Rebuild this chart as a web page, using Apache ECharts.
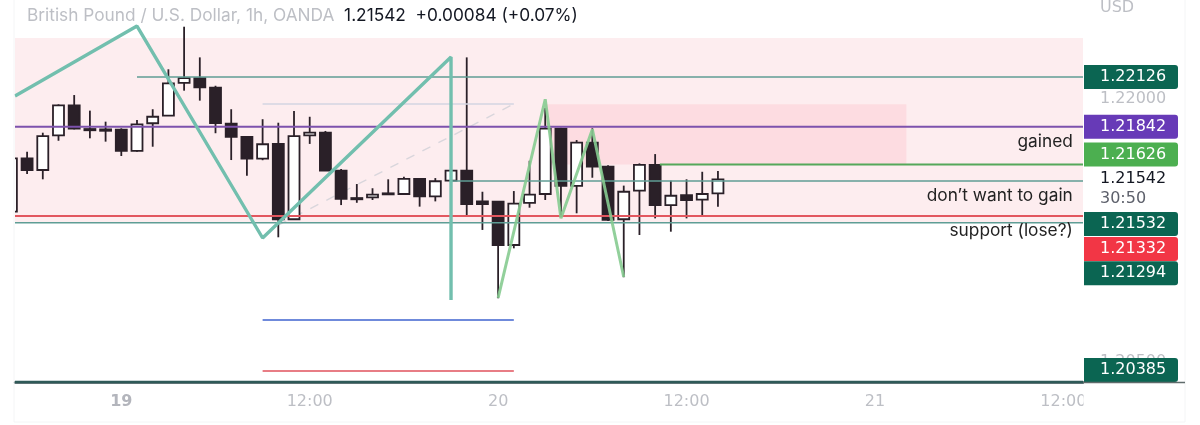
<!DOCTYPE html>
<html>
<head>
<meta charset="utf-8">
<style>
html,body{margin:0;padding:0;background:#fff;}
#chart{width:1200px;height:425px;}
</style>
<script src="https://cdn.jsdelivr.net/npm/echarts@6/dist/echarts.min.js"></script>
</head>
<body>
<div id="chart"></div>
<script>
// hourly candles, first one starts at index -1 (half hidden by the left edge)
var firstIndex = -1;
var opens = [1.21357,1.21662,1.21595,1.21793,1.21964,1.21829,1.21827,1.21825,1.21704,1.21862,1.21905,1.22093,1.22120,1.22065,1.21859,1.21784,1.21660,1.21744,1.21314,1.21793,1.21808,1.21591,1.21435,1.21439,1.21462,1.21458,1.21544,1.21445,1.21534,1.21591,1.21416,1.21414,1.21167,1.21407,1.21458,1.21831,1.21504,1.21751,1.21614,1.21314,1.21477,1.21624,1.21395,1.21451,1.21426,1.21462];
var closes = [1.21662,1.21595,1.21789,1.21964,1.21831,1.21822,1.21819,1.21704,1.21856,1.21899,1.22090,1.22120,1.22067,1.21863,1.21785,1.21660,1.21742,1.21314,1.21789,1.21808,1.21591,1.21430,1.21428,1.21454,1.21456,1.21545,1.21445,1.21531,1.21591,1.21401,1.21401,1.21167,1.21403,1.21454,1.21831,1.21504,1.21751,1.21614,1.21310,1.21471,1.21624,1.21395,1.21448,1.21424,1.21458,1.21542];
var lows = [1.21350,1.21572,1.21542,1.21762,1.21827,1.21776,1.21757,1.21675,1.21700,1.21728,1.21905,1.22048,1.21991,1.21805,1.21652,1.21563,1.21651,1.21211,1.21314,1.21744,1.21591,1.21395,1.21408,1.21424,1.21456,1.21452,1.21386,1.21416,1.21485,1.21338,1.21253,1.20863,1.21148,1.21380,1.21424,1.21329,1.21348,1.21551,1.21304,1.20983,1.21224,1.21319,1.21243,1.21319,1.21338,1.21386];
var highs = [1.21681,1.21700,1.21808,1.21970,1.22023,1.21934,1.21871,1.21833,1.21881,1.21942,1.22170,1.22413,1.22238,1.22076,1.21942,1.21785,1.21885,1.21865,1.21932,1.21899,1.21818,1.21601,1.21515,1.21491,1.21542,1.21557,1.21549,1.21549,1.21595,1.22238,1.21471,1.21414,1.21475,1.21648,1.21949,1.21837,1.21766,1.21833,1.21622,1.21506,1.21633,1.21686,1.21534,1.21542,1.21585,1.21589];

// x axis
var xTickIndex = [6, 18, 30, 42, 54, 66];
var xTickLabels = ['19', '12:00', '20', '12:00', '21', '12:00'];
var xMin = -0.77, xMax = 67.25;

// y axis
var yTicks = [1.22000, 1.20500];
var yMin = 1.20385, yMax = 1.225655;

// zigzags
var tealZigX = [-0.77, 7, 15, 27, 27];
var tealZigY = [1.22018, 1.22417, 1.21207, 1.22240, 1.20853];
var greenZigX = [30, 33, 34, 36, 38];
var greenZigY = [1.20865, 1.21999, 1.21319, 1.21827, 1.20984];

// horizontal levels: price, from index, to index
var levelPrices = [1.22126, 1.21842, 1.21626, 1.21532, 1.21332, 1.21294, 1.20385, 1.21972, 1.20739, 1.20448];
var levelFrom = [7, xMin, 40.3, 27, xMin, xMin, xMin, 15, 15, 15];
var levelTo = [xMax, xMax, xMax, xMax, xMax, xMax, xMax, 31, 31, 31];

// dashed diagonal
var diagX = [16, 31];
var diagY = [1.21281, 1.21972];

// shaded zones
var bandPrices = [[1.22349, 1.21294], [1.21970, 1.21626]];
var bandIndex = [[xMin, xMax], [33, 56]];

// price tags on the right
var tagPrices = [1.22126, 1.21842, 1.21626, 1.21532, 1.21332, 1.21294, 1.20385];
var lastPrice = 1.21542;
var lastChange = '+0.00084 (+0.07%)';
var countdown = '30:50';

// notes written on the chart
var noteTexts = ['gained', 'don\u2019t want to gain', 'support (lose?)'];
var notePrices = [1.21755, 1.21447, 1.21247];

// styles
var levelColors = ['#5f9d95', '#7d52ad', '#55a85a', '#5f9d95', '#e2575f', '#5f9d95', '#2f5a58', '#d3d4e2', '#3f63cf', '#e0525c'];
var levelWidths = [1.5, 1.8, 2, 1.5, 2, 1.5, 2.5, 1.5, 1.6, 1.6];
var tagColors = ['#0b6552', '#673ab7', '#4caf50', '#0b6552', '#f23645', '#0b6552', '#0b6552'];
var tagShift = [0, 0, -10, 43, 33, 50.5, -12];
var textFont = 'Inter';
var scaleFont = 'DejaVu Sans';
var candleDark = '#2a2028';
var grayText = '#bdbfc5';

var candleData = [];
for (var i = 0; i < opens.length; i++) {
    candleData.push([firstIndex + i, opens[i], closes[i], lows[i], highs[i]]);
}

function renderCandle(params, api) {
    var x = api.value(0), open = api.value(1), close = api.value(2);
    var top = api.coord([x, Math.max(open, close)]);
    var bottom = api.coord([x, Math.min(open, close)]);
    var high = api.coord([x, api.value(4)]);
    var low = api.coord([x, api.value(3)]);
    var w = 11;
    var bodyH = Math.max(bottom[1] - top[1], 1);
    return {
        type: 'group',
        children: [{
            type: 'line',
            shape: {x1: high[0], y1: high[1], x2: low[0], y2: low[1]},
            style: {stroke: candleDark, lineWidth: 1.8}
        }, {
            type: 'rect',
            shape: {x: top[0] - w / 2, y: top[1], width: w, height: bodyH},
            style: {fill: close < open ? candleDark : '#fff', stroke: candleDark, lineWidth: 1.8}
        }]
    };
}

function renderBand(params, api) {
    var a = api.coord([api.value(0), api.value(2)]);
    var b = api.coord([api.value(1), api.value(3)]);
    return {
        type: 'rect',
        shape: {x: a[0], y: a[1], width: b[0] - a[0], height: b[1] - a[1]},
        style: {fill: params.dataIndex === 0 ? '#fdedef' : '#fddce1'}
    };
}

function renderTag(params, api) {
    var i = params.dataIndex;
    var y = api.coord([xMax, api.value(0)])[1] + tagShift[i];
    var x = api.coord([xMax, api.value(0)])[0] + 1;
    return {
        type: 'group',
        children: [{
            type: 'rect',
            shape: {x: x, y: y - 12, width: 94, height: 24, r: [0, 3, 3, 0]},
            style: {fill: tagColors[i]}
        }, {
            type: 'text',
            style: {x: x + 16, y: y, text: tagPrices[i].toFixed(5), fill: '#fff', font: '16px "' + scaleFont + '"', align: 'left', verticalAlign: 'middle'}
        }]
    };
}

function renderNote(params, api) {
    var p = api.coord([66.6, api.value(0)]);
    return {
        type: 'text',
        style: {x: p[0], y: p[1], text: noteTexts[params.dataIndex], fill: '#222', font: '17.3px ' + textFont, align: 'right', verticalAlign: 'middle'}
    };
}

var series = [];

series.push({
    type: 'custom',
    z: 1,
    silent: true,
    renderItem: renderBand,
    encode: {x: [0, 1], y: [2, 3]},
    data: bandPrices.map(function (p, i) { return [bandIndex[i][0], bandIndex[i][1], p[0], p[1]]; })
});

series.push({
    type: 'custom',
    z: 3,
    clip: true,
    silent: true,
    renderItem: renderCandle,
    encode: {x: 0, y: [1, 2, 3, 4]},
    data: candleData
});

// levels
levelPrices.forEach(function (p, i) {
    series.push({
        type: 'line',
        z: 4,
        silent: true,
        symbol: 'none',
        animation: false,
        lineStyle: {color: levelColors[i], width: levelWidths[i]},
        data: [[levelFrom[i], p], [levelTo[i], p]]
    });
});

series.push({
    type: 'line',
    z: 2,
    silent: true,
    symbol: 'none',
    lineStyle: {color: '#d9d6dc', width: 1.4, type: [9, 9]},
    data: diagX.map(function (x, i) { return [x, diagY[i]]; })
});

series.push({
    type: 'line',
    z: 5,
    silent: true,
    symbol: 'none',
    lineStyle: {color: '#72bfae', width: 3.4},
    data: tealZigX.map(function (x, i) { return [x, tealZigY[i]]; })
});

series.push({
    type: 'line',
    z: 5,
    silent: true,
    symbol: 'none',
    lineStyle: {color: '#86cb90', width: 3, opacity: 0.9},
    data: greenZigX.map(function (x, i) { return [x, greenZigY[i]]; })
});

series.push({
    type: 'custom',
    z: 6,
    silent: true,
    renderItem: renderNote,
    encode: {y: 0},
    data: notePrices.map(function (p) { return [p]; })
});

series.push({
    type: 'custom',
    z: 7,
    silent: true,
    renderItem: renderTag,
    encode: {y: 0},
    data: tagPrices.map(function (p) { return [p]; })
});

series.push({
    type: 'custom',
    z: 7,
    silent: true,
    encode: {y: 0},
    data: [[lastPrice]],
    renderItem: function (params, api) {
        var p = api.coord([xMax, api.value(0)]);
        return {
            type: 'group',
            children: [{
                type: 'text',
                style: {x: p[0] + 17, y: p[1], text: lastPrice.toFixed(5), fill: '#131722', font: '16px "' + scaleFont + '"', align: 'left', verticalAlign: 'middle'}
            }, {
                type: 'text',
                style: {x: p[0] + 17, y: p[1] + 20, text: countdown, fill: '#5d606b', font: '16px "' + scaleFont + '"', align: 'left', verticalAlign: 'middle'}
            }]
        };
    }
});

var myChart = echarts.init(document.getElementById('chart'), null, {renderer: 'canvas'});

myChart.setOption({
    animation: false,
    backgroundColor: '#fff',
    tooltip: {show: false},
    legend: {show: false},
    title: {
        left: 22,
        top: 2,
        text: '{a|British Pound / U.S. Dollar, 1h, OANDA}{b|  ' + lastPrice.toFixed(5) + '  ' + lastChange + '}',
        textStyle: {
            fontWeight: 'normal',
            rich: {
                a: {color: grayText, fontFamily: textFont, fontSize: 17.3, fontWeight: 'normal'},
                b: {color: '#131722', fontFamily: textFont, fontSize: 17.3, fontWeight: 'normal'}
            }
        }
    },
    grid: {left: 15, right: 117, top: 0, bottom: 43},
    xAxis: {
        type: 'value',
        min: xMin,
        max: xMax,
        splitLine: {show: false},
        axisTick: {show: false},
        axisLine: {show: true, onZero: false, lineStyle: {color: '#2f4a4c', width: 2.5}},
        axisLabel: {
            customValues: xTickIndex,
            margin: 12,
            color: grayText,
            fontFamily: scaleFont,
            fontSize: 16,
            hideOverlap: false,
            showMinLabel: true,
            showMaxLabel: true,
            formatter: function (v) {
                var label = xTickLabels[xTickIndex.indexOf(v)];
                return label === '19' ? '{b|19}' : label;
            },
            rich: {b: {color: '#b3b5bc', fontFamily: scaleFont, fontSize: 16, fontWeight: 'bold'}}
        }
    },
    yAxis: {
        type: 'value',
        position: 'right',
        min: yMin,
        max: yMax,
        scale: true,
        splitLine: {show: false},
        axisTick: {show: false},
        axisLine: {show: false},
        axisLabel: {
            customValues: yTicks,
            margin: 17,
            color: grayText,
            fontFamily: scaleFont,
            fontSize: 16,
            formatter: function (v) { return v.toFixed(5); }
        }
    },
    graphic: [
        // frame of the screenshot and the cut of the last time label
        {type: 'rect', z: 100, shape: {x: 1083.5, y: 385, width: 100, height: 36}, style: {fill: '#fff'}},
        {type: 'line', z: 101, shape: {x1: 14, y1: 0, x2: 14, y2: 422}, style: {stroke: '#f4f5f6', lineWidth: 1}},
        {type: 'line', z: 101, shape: {x1: 1185, y1: 0, x2: 1185, y2: 422}, style: {stroke: '#f4f5f6', lineWidth: 1}},
        {type: 'line', z: 101, shape: {x1: 14, y1: 422, x2: 1185, y2: 422}, style: {stroke: '#f4f5f6', lineWidth: 1}},
        {type: 'line', z: 101, shape: {x1: 1083, y1: 382.5, x2: 1185, y2: 382.5}, style: {stroke: '#5f6b6b', lineWidth: 1.6}},
        {type: 'text', z: 101, style: {x: 1100, y: 8, text: 'USD', fill: grayText, font: '16px "' + scaleFont + '"', align: 'left', verticalAlign: 'middle'}}
    ],
    series: series
});
</script>
</body>
</html>
